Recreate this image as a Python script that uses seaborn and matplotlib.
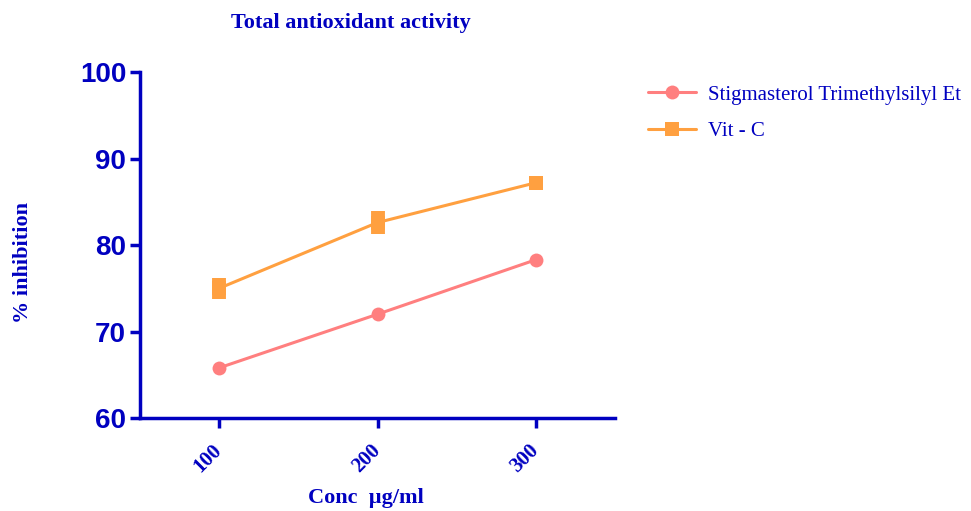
import matplotlib
matplotlib.use("Agg")
import matplotlib.pyplot as plt
import seaborn as sns
import pandas as pd
from matplotlib.lines import Line2D

conc = [100, 200, 300]
stigmasterol = [65.8, 72.0, 78.3]
vitc = [75.0, 82.6, 87.2]
vitc_err = [1.2, 1.3, 0.0]
series_names = ["Stigmasterol Trimethylsilyl Et", "Vit - C"]
yticks = [60, 70, 80, 90, 100]

BLUE = "#0000C0"
PINK = "#FF7F7F"
ORANGE = "#FFA040"

sns.set_style("ticks")
plt.rcParams["font.family"] = ["Liberation Serif", "DejaVu Serif"]

df = pd.DataFrame({
    "conc": conc * 2,
    "value": stigmasterol + vitc,
    "series": [series_names[0]] * 3 + [series_names[1]] * 3,
})

fig = plt.figure(figsize=(9.71, 5.11), dpi=100)
ax = fig.add_axes([0.1442, 0.182, 0.4892, 0.677])

palette = {series_names[0]: PINK, series_names[1]: ORANGE}
sns.lineplot(data=df, x="conc", y="value", hue="series", style="series",
             markers={series_names[0]: "o", series_names[1]: "s"},
             dashes=False, palette=palette, linewidth=2.2, markersize=10,
             markeredgewidth=0, ax=ax, legend=False)
ax.errorbar(conc, vitc, yerr=vitc_err, fmt="none", ecolor=ORANGE,
            elinewidth=10, capsize=0, zorder=1)

ax.set_xlim(50, 350)
ax.set_ylim(60, 100)
ax.set_xticks(conc)
ax.set_yticks(yticks)
ax.set_xticklabels([str(c) for c in conc], rotation=45, ha="right",
                   va="center", rotation_mode="anchor", fontsize=15,
                   fontweight="bold", color=BLUE)
ax.set_yticklabels([str(t) for t in yticks], fontsize=20, fontweight="bold",
                   color=BLUE, family=["Liberation Sans", "DejaVu Sans"])
ax.tick_params(axis="both", colors=BLUE, width=2.5, length=7, direction="out")
ax.tick_params(axis="x", pad=14)
ax.tick_params(axis="y", pad=3)
for s in ["left", "bottom"]:
    ax.spines[s].set_color(BLUE)
    ax.spines[s].set_linewidth(2.5)
sns.despine(ax=ax)

ax.set_xlabel("Conc  µg/ml", fontsize=16, fontweight="bold", color=BLUE,
              va="center")
ax.xaxis.set_label_coords(0.476, -0.231)
ax.set_ylabel("% inhibition", fontsize=16, fontweight="bold", color=BLUE,
              va="center")
ax.yaxis.set_label_coords(-0.247, 0.45)
fig.text(0.361, 0.955, "Total antioxidant activity", ha="center", va="center",
         fontsize=16, fontweight="bold", color=BLUE)

handles = [
    Line2D([], [], color=PINK, marker="o", markersize=10, linewidth=2.2,
           markeredgewidth=0),
    Line2D([], [], color=ORANGE, marker="s", markersize=10, linewidth=2.2,
           markeredgewidth=0),
]
leg = fig.legend(handles, series_names, loc="upper left",
                 bbox_to_anchor=(0.648, 0.87), frameon=False, fontsize=15,
                 handlelength=2.3, labelspacing=0.8, handletextpad=0.6)
for t in leg.get_texts():
    t.set_color(BLUE)

fig.savefig("out.png", dpi=100)
